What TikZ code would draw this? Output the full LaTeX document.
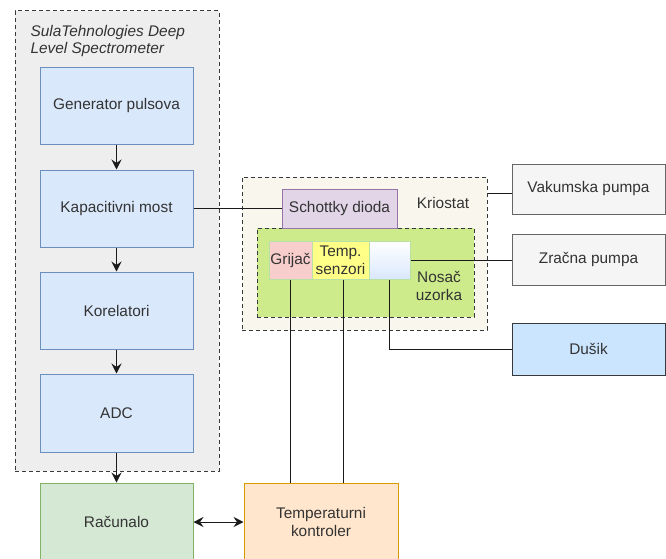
\documentclass[tikz,border=0pt]{standalone}
\usepackage{fontspec}
\setmainfont{Liberation Sans}
\usetikzlibrary{arrows.meta}
\definecolor{txtgray}{HTML}{333333}
\definecolor{linegray}{HTML}{1A1A1A}
\definecolor{blfill}{HTML}{DAE8FC}
\definecolor{bldraw}{HTML}{6C8EBF}
\definecolor{grfill}{HTML}{D5E8D4}
\definecolor{grdraw}{HTML}{82B366}
\definecolor{orfill}{HTML}{FFE6CC}
\definecolor{ordraw}{HTML}{D79B00}
\definecolor{pufill}{HTML}{E1D5E7}
\definecolor{pudraw}{HTML}{9673A6}
\definecolor{refill}{HTML}{F8CECC}
\definecolor{yefill}{HTML}{FFFF88}
\definecolor{inndraw}{HTML}{B9E0A5}
\definecolor{gyfill}{HTML}{F5F5F5}
\definecolor{gydraw}{HTML}{666666}
\definecolor{dufill}{HTML}{CCE5FF}
\definecolor{cdraw}{HTML}{36393D}
\definecolor{sulafill}{HTML}{EEEEEE}
\definecolor{kriofill}{HTML}{F9F7ED}
\definecolor{nosfill}{HTML}{CDEB8B}
\tikzset{
    box/.style ={
        rectangle,
        inner sep=0pt,
        line width=1pt,
        text=txtgray,
        align=center
    },
    bluebox/.style ={box, fill=blfill, draw=bldraw},
    graybox/.style ={box, fill=gyfill, draw=gydraw},
    innerbox/.style ={box, draw=inndraw},
    container/.style ={
        rectangle,
        line width=1pt,
        draw=cdraw,
        dash pattern=on 4pt off 3pt
    },
    conn/.style ={line width=1pt, draw=linegray},
    tip/.tip ={Stealth[length=10pt,width=10pt,inset=3.5pt]},
    arr/.style ={conn, -tip}
}

\begin{document}
\begin{tikzpicture}[x=1pt,y=-1pt,font=\fontsize{15.4}{18}\selectfont]
        \useasboundingbox (0,0) rectangle (666,559);

        % containers
        \node[container, fill=sulafill, minimum width=204pt, minimum height=460pt] (SULA) at(117,241) {};
        \node[anchor=north west, align=left, text=txtgray, font=\fontsize{15.4}{17}\selectfont\itshape] (SULATITLE) at(27,22) {SulaTehnologies Deep\\Level Spectrometer};
        \node[container, fill=kriofill, minimum width=245pt, minimum height=153pt] (KRIO) at(364.5,253.5) {};
        \node[text=txtgray] (KRIOTITLE) at(443,203) {Kriostat};
        \node[container, fill=nosfill, minimum width=217pt, minimum height=89pt] (NOSAC) at(365.5,272.5) {};
        \node[text=txtgray, align=center] (NOSACTITLE) at(439,286) {Nosač\\uzorka};

        % spectrometer chain
        \node[bluebox, minimum width=153pt, minimum height=76pt] (GEN) at(116.5,106) {Generator pulsova};
        \node[bluebox, minimum width=153pt, minimum height=77pt] (KAP) at(116.5,208.5) {Kapacitivni most};
        \node[bluebox, minimum width=153pt, minimum height=77pt] (KOR) at(116.5,310.5) {Korelatori};
        \node[bluebox, minimum width=153pt, minimum height=78pt] (ADC) at(116.5,413) {ADC};
        \node[box, fill=grfill, draw=grdraw, minimum width=153pt, minimum height=78pt] (RAC) at(116.5,522) {Računalo};
        \node[box, fill=orfill, draw=ordraw, minimum width=154pt, minimum height=78pt] (TK) at(321,522) {Temperaturni\\kontroler};

        % kriostat
        \node[box, fill=pufill, draw=pudraw, minimum width=115pt, minimum height=39pt] (SCHOTTKY) at(339.5,208.5) {Schottky dioda};
        \node[innerbox, fill=refill, minimum width=43pt, minimum height=38pt] (GRIJAC) at(290.5,260) {Grijač};
        \node[innerbox, fill=yefill, minimum width=57pt, minimum height=38pt] (SENZ) at(340.5,260) {Temp.\\senzori};
        \node[innerbox, top color=white, bottom color=blfill, minimum width=41pt, minimum height=38pt] (UZORAK) at(389.5,260) {};

        % external
        \node[graybox, minimum width=153pt, minimum height=50pt] (VAK) at(588.5,189) {Vakumska pumpa};
        \node[graybox, minimum width=153pt, minimum height=51pt] (ZRAC) at(588.5,259.5) {Zračna pumpa};
        \node[box, fill=dufill, draw=cdraw, minimum width=153pt, minimum height=52pt] (DUSIK) at(588.5,349) {Dušik};

        \draw[arr] (GEN)--(KAP);
        \draw[arr] (KAP)--(KOR);
        \draw[arr] (KOR)--(ADC);
        \draw[arr] (ADC)--(RAC);
        \draw[conn, tip-tip] (RAC)--(TK);
        \draw[conn] (KAP.east)--(SCHOTTKY.west);
        \draw[conn] ([yshift=-4pt]VAK.west)--([yshift=-4pt]VAK.west -| KRIO.east);
        \draw[conn] (UZORAK.east)--(UZORAK.east -| ZRAC.west);
        \draw[conn] (UZORAK.south) |- (DUSIK.west);
        \draw[conn] (GRIJAC.south)--(GRIJAC.south |- TK.north);
        \draw[conn] ([xshift=3pt]SENZ.south)--([xshift=3pt]SENZ.south |- TK.north);
    \end{tikzpicture}
\end{document}
